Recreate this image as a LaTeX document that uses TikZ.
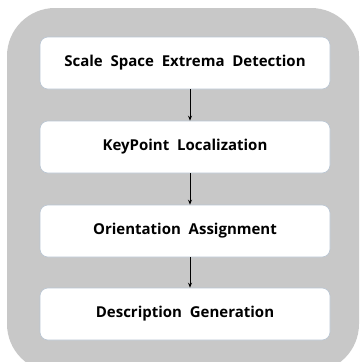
\documentclass[tikz,border=0pt]{standalone}
\usepackage{fontspec}
\setmainfont{Open Sans}
\usetikzlibrary{arrows.meta,positioning}
\definecolor{panelgray}{HTML}{C8C8C8}
\definecolor{boxline}{HTML}{B9C6D4}

\begin{document}
\begin{tikzpicture}[x=1pt, y=-1pt,
  stage/.style={rectangle, draw=boxline, fill=white, line width=0.6pt, minimum width=290pt, minimum height=52pt, align=center, font=\fontsize{15}{18}\selectfont\bfseries, rounded corners=8pt},
  flow/.style={-{Stealth[length=5pt, width=4pt]}, line width=0.8pt}
]
  \useasboundingbox (0,0) rectangle (362,362);
  % background panel
  \fill[panelgray, rounded corners=48pt] (7,8) rectangle (359,372);
  \node[stage] (scale) at (185,63) {Scale\ \ Space\ \ Extrema\ \ Detection};
  \node[stage] (keyp) at (185,147) {KeyPoint\ \ Localization};
  \node[stage] (orient) at (185,231) {Orientation\ \ Assignment};
  \node[stage] (descr) at (185,314) {Description\ \ Generation};
  \draw[flow] (scale.south -| 190,0) -- (keyp.north -| 190,0);
  \draw[flow] (keyp.south -| 190,0) -- (orient.north -| 190,0);
  \draw[flow] (orient.south -| 190,0) -- (descr.north -| 190,0);
\end{tikzpicture}
\end{document}
